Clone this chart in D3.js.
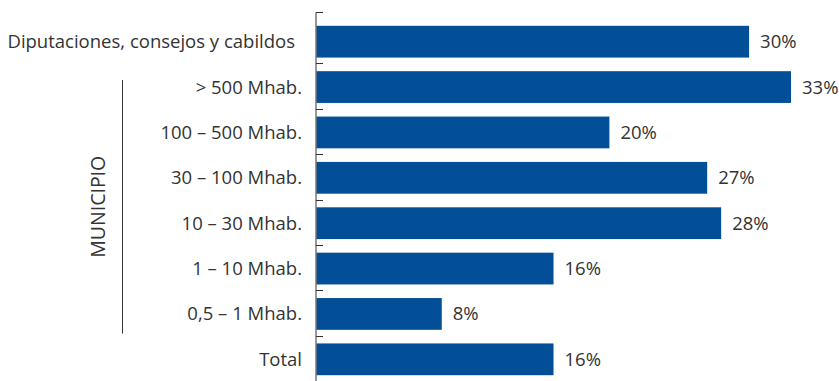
<!DOCTYPE html>
<html>
<head>
<meta charset="utf-8">
<script src="https://cdn.jsdelivr.net/npm/d3@7"></script>
<style>
html,body{margin:0;padding:0;background:#fff;}
svg{display:block;}
text{font-family:"Open Sans",Lato,sans-serif;fill:#333;}
</style>
</head>
<body>
<svg id="chart" width="839" height="381"></svg>
<script>
const categories = ["Diputaciones, consejos y cabildos", "> 500 Mhab.", "100 – 500 Mhab.", "30 – 100 Mhab.", "10 – 30 Mhab.", "1 – 10 Mhab.", "0,5 – 1 Mhab.", "Total"];
const values = [30, 33, 20, 27, 28, 16, 8, 16];
const valueLabels = ["30%", "33%", "20%", "27%", "28%", "16%", "8%", "16%"];
const groupLabel = "MUNICIPIO";
const groupMembers = ["> 500 Mhab.", "0,5 – 1 Mhab."];

const W = 839, H = 381;
const axisX = 316;
const barColor = "#024f98";
const fontSize = 18.5;

const svg = d3.select("#chart");
const x = d3.scaleLinear().domain([0, 33]).range([330, 791]);
const y = d3.scaleBand().domain(categories).range([19, 382]).paddingInner(0.3).paddingOuter(0.15);
const step = y.step();

// bars
svg.append("g").selectAll("rect").data(categories).join("rect")
  .attr("x", axisX + 0.5)
  .attr("y", d => y(d))
  .attr("width", (d, i) => x(values[i]) - axisX - 0.5)
  .attr("height", y.bandwidth())
  .attr("fill", barColor);

// axis line and ticks
const axisG = svg.append("g").attr("stroke", "#333").attr("stroke-width", 1);
axisG.append("line").attr("x1", axisX).attr("x2", axisX).attr("y1", 12.5).attr("y2", H);
const tickYs = [12.5].concat(categories.slice(1).map(c => Math.round(y(c) - step * 0.15 - 1) + 0.5));
axisG.selectAll("line.tick").data(tickYs).join("line").attr("class", "tick")
  .attr("x1", axisX).attr("x2", axisX + 7).attr("y1", d => d).attr("y2", d => d);

// category labels
svg.append("g").selectAll("text").data(categories).join("text")
  .attr("x", (d, i) => i === 0 ? 295 : 302)
  .attr("y", d => y(d) + y.bandwidth() / 2)
  .attr("dy", "0.35em")
  .attr("text-anchor", "end")
  .attr("font-size", fontSize)
  .text(d => d);

// value labels
svg.append("g").selectAll("text").data(categories).join("text")
  .attr("x", (d, i) => x(values[i]) + 11)
  .attr("y", d => y(d) + y.bandwidth() / 2)
  .attr("dy", "0.35em")
  .attr("font-size", fontSize)
  .text((d, i) => valueLabels[i]);

// group bracket
svg.append("line").attr("x1", 122.5).attr("x2", 122.5).attr("y1", 80).attr("y2", 333.5)
  .attr("stroke", "#333").attr("stroke-width", 1);
svg.append("text")
  .attr("transform", `translate(104.5,${(80 + 333.5) / 2}) rotate(-90)`)
  .attr("text-anchor", "middle")
  .attr("font-size", 19.5)
  .text(groupLabel);
</script>
</body>
</html>
